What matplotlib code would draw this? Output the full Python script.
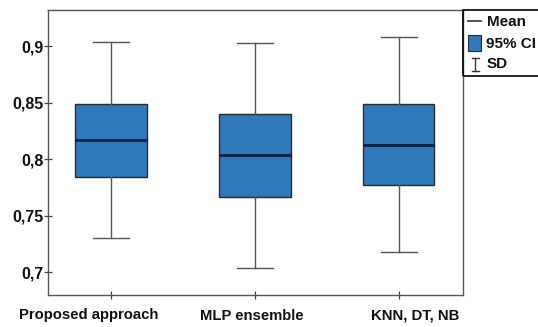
import matplotlib
matplotlib.use("Agg")
import matplotlib.pyplot as plt
import matplotlib.transforms as mtransforms
from matplotlib.patches import Rectangle
from matplotlib.lines import Line2D

categories = ["Proposed approach", "MLP ensemble", "KNN, DT, NB"]
means = [0.8174, 0.8035, 0.8122]
ci_low = [0.7844, 0.7668, 0.7771]
ci_high = [0.8490, 0.8403, 0.8486]
sd_low = [0.7306, 0.7041, 0.7180]
sd_high = [0.9038, 0.9024, 0.9082]
yticks = [0.7, 0.75, 0.8, 0.85, 0.9]
ytick_labels = ["0,7", "0,75", "0,8", "0,85", "0,9"]
legend_labels = ["Mean", "95% CI", "SD"]

plt.rcParams['font.family'] = ['Liberation Sans', 'DejaVu Sans']

W, H = 538, 327
fig = plt.figure(figsize=(W / 100, H / 100), dpi=100)
ax = fig.add_axes([48 / W, 1 - 295 / H, (462.5 - 48) / W, (295 - 10) / H])

blue = "#2f78b9"
stats = []
for c, m, lo, hi, wl, wh in zip(categories, means, ci_low, ci_high, sd_low, sd_high):
    stats.append(dict(label=c, med=m, q1=lo, q3=hi, whislo=wl, whishi=wh, fliers=[]))

positions = [1, 2, 3]
ax.bxp(stats, positions=positions, widths=0.5, patch_artist=True, showfliers=False,
       boxprops=dict(facecolor=blue, edgecolor="#2b2b2b", linewidth=1.0),
       medianprops=dict(color="#0d1f3a", linewidth=2.0),
       whiskerprops=dict(color="#555555", linewidth=1.0),
       capprops=dict(color="#555555", linewidth=1.0),
       capwidths=0.25)

ax.set_xlim(0.56, 3.445)
ax.set_ylim(0.680, 0.932)
ax.set_yticks(yticks)
ax.set_yticklabels(ytick_labels)
ax.set_xticks(positions)
ax.set_xticklabels([])
# category labels (slightly offset from ticks as in the original)
label_shift_px = [-23, -3.5, 17]
for pos, cat, dx in zip(positions, categories, label_shift_px):
    tr = ax.get_xaxis_transform() + mtransforms.ScaledTranslation(dx / 100, -13.5 / 100,
                                                                  fig.dpi_scale_trans)
    ax.text(pos, 0, cat, transform=tr, ha="center", va="top", fontsize=10.7,
            fontweight="bold", color="#111111")
for lab in ax.get_yticklabels():
    lab.set_fontweight("bold")
    lab.set_fontsize(11.5)
    lab.set_color("#111111")
ax.tick_params(axis="both", direction="inout", length=6, width=0.9, color="#444444")
ax.tick_params(axis="y", pad=0.5)
for s in ax.spines.values():
    s.set_color("#555555")
    s.set_linewidth(1.0)

# legend box
def fx(px):
    return px / W

def fy(py):
    return 1 - py / H

fig.patches.append(Rectangle((fx(462.5), fy(76)), fx(600) - fx(462.5), fy(10) - fy(76),
                             transform=fig.transFigure, fill=False, edgecolor="black",
                             linewidth=1.2))
fig.lines.append(Line2D([fx(467.5), fx(481)], [fy(20.5), fy(20.5)], transform=fig.transFigure,
                        color="#333333", linewidth=1.2))
fig.patches.append(Rectangle((fx(467.5), fy(51)), fx(481) - fx(467.5), fy(35) - fy(51),
                             transform=fig.transFigure, facecolor=blue, edgecolor="#2b2b2b",
                             linewidth=0.8))
fig.lines.append(Line2D([fx(475), fx(475)], [fy(58.3), fy(70.7)], transform=fig.transFigure,
                        color="#333333", linewidth=1.0))
fig.lines.append(Line2D([fx(471.5), fx(478.5)], [fy(58.3), fy(58.3)], transform=fig.transFigure,
                        color="#333333", linewidth=1.0))
fig.lines.append(Line2D([fx(471.5), fx(478.5)], [fy(70.7), fy(70.7)], transform=fig.transFigure,
                        color="#333333", linewidth=1.0))
for lbl, yy in zip(legend_labels, [21.5, 43.5, 64.5]):
    fig.text(fx(486.5), fy(yy), lbl, fontsize=11, fontweight="bold", va="center", ha="left",
             color="#111111")

fig.savefig("out.png", dpi=100)
